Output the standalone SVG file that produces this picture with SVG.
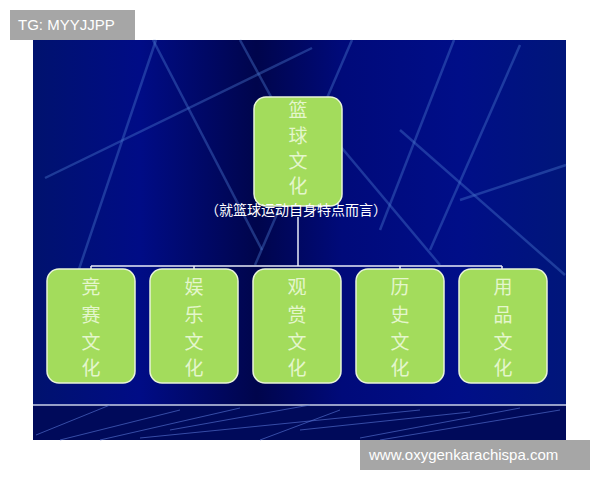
<svg xmlns="http://www.w3.org/2000/svg" width="600" height="480" viewBox="0 0 600 480">
<defs>
<linearGradient id="bg" x1="0" y1="0" x2="1" y2="0">
<stop offset="0" stop-color="#00126e"/>
<stop offset="0.2" stop-color="#000c86"/>
<stop offset="0.42" stop-color="#00054c"/>
<stop offset="0.58" stop-color="#000a7a"/>
<stop offset="0.8" stop-color="#000e88"/>
<stop offset="1" stop-color="#00167a"/>
</linearGradient>
<style>
.bgl{stroke:#4a7ad0;stroke-width:2.5;opacity:0.4;fill:none}
.fl{stroke:#5a78d8;stroke-width:1;opacity:0.6;fill:none}
.node{fill:#a3dc5c;stroke:#e8f4d8;stroke-width:1.5}
.nt{font-family:"Noto Sans CJK SC","Liberation Serif",serif;font-size:19px;fill:#e4f6cc;text-anchor:middle}
.conn{stroke:#e8ecf8;stroke-width:1.5;fill:none}
.wm{font-family:"Liberation Sans",Arial,sans-serif;font-size:15px;fill:#ffffff}
</style>
</defs>
<rect x="0" y="0" width="600" height="480" fill="#ffffff"/>
<rect x="33" y="40" width="533" height="400" fill="url(#bg)"/>
<g id="background-lines">
<line class="bgl" x1="156" y1="40" x2="72" y2="290"/>
<line class="bgl" x1="153" y1="40" x2="262" y2="250"/>
<line class="bgl" x1="240" y1="40" x2="300" y2="150"/>
<line class="bgl" x1="312" y1="48" x2="45" y2="178"/>
<line class="bgl" x1="352" y1="40" x2="255" y2="265"/>
<line class="bgl" x1="454" y1="40" x2="380" y2="230"/>
<line class="bgl" x1="520" y1="45" x2="430" y2="250"/>
<line class="bgl" x1="310" y1="110" x2="440" y2="265"/>
<line class="bgl" x1="400" y1="130" x2="565" y2="275"/>
<line class="bgl" x1="460" y1="200" x2="566" y2="165"/>
<line class="bgl" x1="180" y1="300" x2="165" y2="360"/>
</g>
<rect x="33" y="405" width="533" height="35" fill="#000a5a"/>
<line x1="33" y1="405" x2="566" y2="405" stroke="#c8d0e8" stroke-width="1.5"/>
<g id="floor-lines">
<path class="fl" d="M36 435 L110 405"/>
<path class="fl" d="M60 440 L180 410"/>
<path class="fl" d="M100 440 L240 408"/>
<path class="fl" d="M170 430 L310 405"/>
<path class="fl" d="M140 438 L420 410"/>
<path class="fl" d="M260 440 L340 410"/>
<path class="fl" d="M300 430 L470 412"/>
<path class="fl" d="M360 438 L520 408"/>
<path class="fl" d="M380 440 L560 410"/>
</g>
<g id="connectors">
<line class="conn" x1="298" y1="217" x2="298" y2="266"/>
<line class="conn" x1="91" y1="266" x2="502" y2="266"/>
<line class="conn" x1="91" y1="266" x2="91" y2="270"/>
<line class="conn" x1="194" y1="266" x2="194" y2="270"/>
<line class="conn" x1="400" y1="266" x2="400" y2="270"/>
<line class="conn" x1="502" y1="266" x2="502" y2="270"/>
</g>
<g id="node-root">
<rect class="node" x="254" y="97" width="88" height="109" rx="12"/>
<text class="nt" x="298" y="117">篮</text>
<text class="nt" x="298" y="143">球</text>
<text class="nt" x="298" y="168">文</text>
<text class="nt" x="298" y="193">化</text>
</g>
<text id="caption" x="296" y="215" font-family="Noto Sans CJK SC,Liberation Serif,serif" font-size="14" fill="#ffffff" text-anchor="middle">（就篮球运动自身特点而言）</text>
<g id="node-1">
<rect class="node" x="47" y="269" width="88" height="114" rx="12"/>
<text class="nt" x="91" y="294">竞</text><text class="nt" x="91" y="322">赛</text><text class="nt" x="91" y="349">文</text><text class="nt" x="91" y="375">化</text>
</g>
<g id="node-2">
<rect class="node" x="150" y="269" width="88" height="114" rx="12"/>
<text class="nt" x="194" y="294">娱</text><text class="nt" x="194" y="322">乐</text><text class="nt" x="194" y="349">文</text><text class="nt" x="194" y="375">化</text>
</g>
<g id="node-3">
<rect class="node" x="253" y="269" width="88" height="114" rx="12"/>
<text class="nt" x="297" y="294">观</text><text class="nt" x="297" y="322">赏</text><text class="nt" x="297" y="349">文</text><text class="nt" x="297" y="375">化</text>
</g>
<g id="node-4">
<rect class="node" x="356" y="269" width="88" height="114" rx="12"/>
<text class="nt" x="400" y="294">历</text><text class="nt" x="400" y="322">史</text><text class="nt" x="400" y="349">文</text><text class="nt" x="400" y="375">化</text>
</g>
<g id="node-5">
<rect class="node" x="459" y="269" width="88" height="114" rx="12"/>
<text class="nt" x="503" y="294">用</text><text class="nt" x="503" y="322">品</text><text class="nt" x="503" y="349">文</text><text class="nt" x="503" y="375">化</text>
</g>
<g id="watermarks">
<rect x="10" y="10" width="125" height="30" fill="#a6a6a6"/>
<text class="wm" x="18" y="30">TG: MYYJJPP</text>
<rect x="360" y="440" width="230" height="30" fill="#a6a6a6"/>
<text class="wm" x="369" y="460">www.oxygenkarachispa.com</text>
</g>
</svg>
